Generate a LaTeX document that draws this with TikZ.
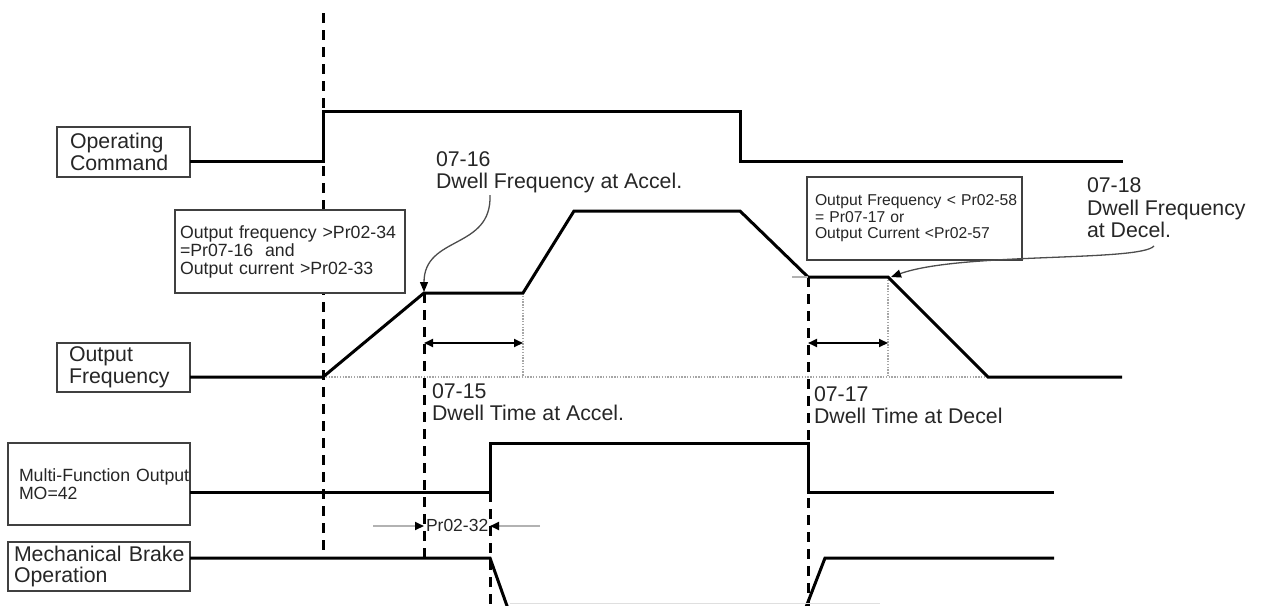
\documentclass[tikz,border=0pt]{standalone}
\usepackage{fontspec}
\setmainfont{Liberation Sans}
\usetikzlibrary{arrows.meta}

\begin{document}
\begin{tikzpicture}[x=1pt,y=-1pt,>={Triangle[length=9pt,width=8pt]},
  every node/.style={text=black!85,inner sep=0pt,outer sep=0pt},
  sigbox/.style={draw=black!75,fill=white,line width=1.4pt,anchor=north west,align=left},
  big/.style={font=\fontsize{21.3}{21.8}\selectfont},
  small/.style={font=\fontsize{17.7}{18}\selectfont},
  wave/.style={line width=3pt,line join=miter},
  cut/.style={line width=3pt,dash pattern=on 10pt off 7pt},
  dots/.style={gray!70,line width=1.3pt,dash pattern=on 1.4pt off 1.4pt},
  dim/.style={<->,line width=2pt},
  note/.style={draw=black!70,line width=1.3pt,-{Triangle[length=10pt,width=8pt,black]}}]
\clip (0,0) rectangle (1263,605);
% time marks
\draw[cut] (323,13) -- (323,558);
\draw[cut] (424,293) -- (424,558);
\draw[cut] (490,492) -- (490,620);
\draw[cut] (808,277) -- (808,620);
\draw[dots] (323,377) -- (988,377);
\draw[dots] (523,293) -- (523,377);
\draw[dots] (888,277) -- (888,377);
% signal boxes
\node[sigbox,big,minimum height=50pt,inner xsep=13pt,text width=107pt] (opbox) at (57,127) {Operating\\Command};
\node[sigbox,big,minimum height=49pt,inner xsep=12pt,text width=109pt] (ofbox) at (57,343) {Output\\Frequency};
\node[sigbox,small,minimum height=82pt,inner xsep=11pt,text width=160pt] (mobox) at (8,443) {\mbox{Multi-Function Output}\\MO=42};
\node[sigbox,big,minimum height=49pt,inner xsep=6pt,text width=170pt] (mbbox) at (8,542) {\mbox{Mechanical Brake}\\Operation};
\node[sigbox,small,minimum height=83pt,inner xsep=5pt,text width=220pt] (accbox) at (175,210) {\mbox{Output frequency >Pr02-34}\\=Pr07-16\ \ and\\\mbox{Output current >Pr02-33}};
\node[sigbox,font=\fontsize{15.7}{16.5}\selectfont,minimum height=83pt,inner xsep=8pt,text width=199pt] (decbox) at (807,177) {\mbox{Output Frequency < Pr02-58}\\= Pr07-17 or\\\mbox{Output Current <Pr02-57}};
% labels
\node[big,anchor=north west,align=left] (l16) at (436,151.6) {07-16\\Dwell Frequency at Accel.};
\node[anchor=north west,align=left,font=\fontsize{21.3}{22.5}\selectfont] (l18) at (1087,178) {07-18\\Dwell Frequency\\at Decel.};
\node[big,anchor=north west,align=left] (l15) at (432,383.6) {07-15\\Dwell Time at Accel.};
\node[big,anchor=north west,align=left] (l17) at (814,386.6) {07-17\\Dwell Time at Decel};
\node[font=\fontsize{17.5}{18}\selectfont,anchor=base west] (p32) at (426,531) {Pr02-32};
% waveforms
\draw[wave] (opbox.east |- 0,161) -- (323,161) -- (323,111) -- (740,111) -- (740,161) -- (1123,161);
\draw[wave] (ofbox.east |- 0,377) -- (323,377) -- (424,293) -- (523,293) -- (574,211) -- (740,211) -- (808,277) -- (888,277) -- (988,377) -- (1122,377);
\draw[gray!60,line width=1.2pt] (792,277) -- (808,277);
\draw[wave] (mobox.east |- 0,492) -- (490,492) -- (490,443) -- (808,443) -- (808,492) -- (1054,492);
\draw[wave] (mbbox.east |- 0,558) -- (490,558) -- (512,620);
\draw[wave] (801,620) -- (825,558) -- (1054,558);
\draw[gray!25,line width=0.8pt] (510,603) -- (880,603);
% dwell times
\draw[dim] (424,343) -- (523,343);
\draw[dim] (808,343) -- (888,343);
\draw[gray!60,line width=2pt,-{Triangle[length=9pt,width=8pt,black]}] (373,526) -- (424,526);
\draw[gray!60,line width=2pt,-{Triangle[length=9pt,width=8pt,black]}] (540,526) -- (490,526);
% pointers
\coordinate (c16) at (490,195);
\coordinate (t16) at (424,292);
\coordinate (c18) at (1154,246);
\coordinate (t18) at (891,277);
\draw[note] (c16) .. controls (492,250) and (424,235) .. (t16);
\draw[note] (c18) .. controls (1140,262) and (960,252) .. (t18);
\end{tikzpicture}
\end{document}
